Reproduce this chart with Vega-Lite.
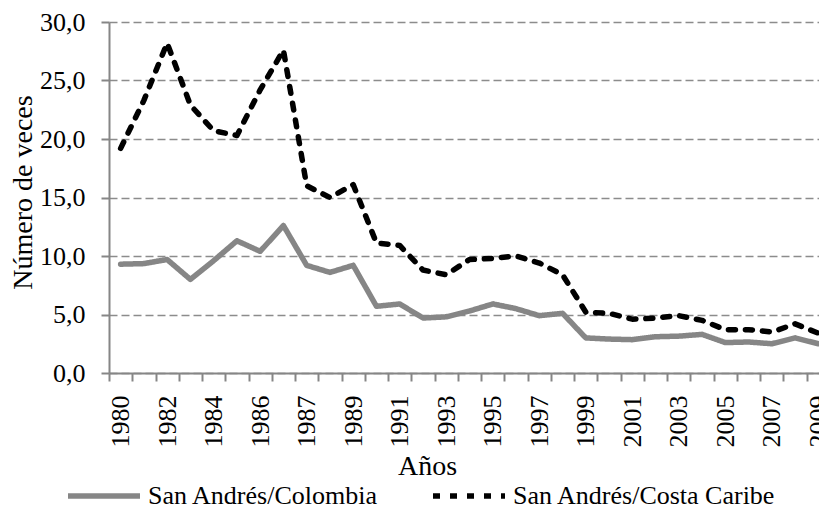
{
  "$schema": "https://vega.github.io/schema/vega-lite/v6.json",
  "width": 710,
  "height": 351,
  "autosize": {"type": "none"},
  "padding": {"left": 109, "top": 22, "right": 0, "bottom": 138},
  "background": "white",
  "config": {
    "font": "Liberation Serif",
    "view": {"stroke": null},
    "axis": {"labelFont": "Liberation Serif", "titleFont": "Liberation Serif", "labelColor": "#000000", "titleColor": "#000000", "titleFontWeight": "normal"},
    "legend": {"labelFont": "Liberation Serif"}
  },
  "data": {
    "values": [
      {"anio": "1980", "serie": "San Andrés/Colombia", "valor": 9.3},
      {"anio": "1981", "serie": "San Andrés/Colombia", "valor": 9.35},
      {"anio": "1982", "serie": "San Andrés/Colombia", "valor": 9.7},
      {"anio": "1983", "serie": "San Andrés/Colombia", "valor": 8.0},
      {"anio": "1984", "serie": "San Andrés/Colombia", "valor": 9.6},
      {"anio": "1985", "serie": "San Andrés/Colombia", "valor": 11.3},
      {"anio": "1986", "serie": "San Andrés/Colombia", "valor": 10.4},
      {"anio": "1986 (2)", "serie": "San Andrés/Colombia", "valor": 12.6},
      {"anio": "1987", "serie": "San Andrés/Colombia", "valor": 9.2},
      {"anio": "1988", "serie": "San Andrés/Colombia", "valor": 8.6},
      {"anio": "1989", "serie": "San Andrés/Colombia", "valor": 9.2},
      {"anio": "1990", "serie": "San Andrés/Colombia", "valor": 5.7},
      {"anio": "1991", "serie": "San Andrés/Colombia", "valor": 5.9},
      {"anio": "1992", "serie": "San Andrés/Colombia", "valor": 4.7},
      {"anio": "1993", "serie": "San Andrés/Colombia", "valor": 4.8},
      {"anio": "1994", "serie": "San Andrés/Colombia", "valor": 5.3},
      {"anio": "1995", "serie": "San Andrés/Colombia", "valor": 5.9},
      {"anio": "1996", "serie": "San Andrés/Colombia", "valor": 5.5},
      {"anio": "1997", "serie": "San Andrés/Colombia", "valor": 4.9},
      {"anio": "1998", "serie": "San Andrés/Colombia", "valor": 5.1},
      {"anio": "1999", "serie": "San Andrés/Colombia", "valor": 3.0},
      {"anio": "2000", "serie": "San Andrés/Colombia", "valor": 2.9},
      {"anio": "2001", "serie": "San Andrés/Colombia", "valor": 2.85},
      {"anio": "2002", "serie": "San Andrés/Colombia", "valor": 3.1},
      {"anio": "2003", "serie": "San Andrés/Colombia", "valor": 3.15},
      {"anio": "2004", "serie": "San Andrés/Colombia", "valor": 3.3},
      {"anio": "2005", "serie": "San Andrés/Colombia", "valor": 2.6},
      {"anio": "2006", "serie": "San Andrés/Colombia", "valor": 2.65},
      {"anio": "2007", "serie": "San Andrés/Colombia", "valor": 2.5},
      {"anio": "2008", "serie": "San Andrés/Colombia", "valor": 3.0},
      {"anio": "2009", "serie": "San Andrés/Colombia", "valor": 2.5},
      {"anio": "1980", "serie": "San Andrés/Costa Caribe", "valor": 19.2},
      {"anio": "1981", "serie": "San Andrés/Costa Caribe", "valor": 23.3},
      {"anio": "1982", "serie": "San Andrés/Costa Caribe", "valor": 28.2},
      {"anio": "1983", "serie": "San Andrés/Costa Caribe", "valor": 22.9},
      {"anio": "1984", "serie": "San Andrés/Costa Caribe", "valor": 20.7},
      {"anio": "1985", "serie": "San Andrés/Costa Caribe", "valor": 20.3},
      {"anio": "1986", "serie": "San Andrés/Costa Caribe", "valor": 24.2},
      {"anio": "1986 (2)", "serie": "San Andrés/Costa Caribe", "valor": 27.6},
      {"anio": "1987", "serie": "San Andrés/Costa Caribe", "valor": 16.0},
      {"anio": "1988", "serie": "San Andrés/Costa Caribe", "valor": 15.0},
      {"anio": "1989", "serie": "San Andrés/Costa Caribe", "valor": 16.1},
      {"anio": "1990", "serie": "San Andrés/Costa Caribe", "valor": 11.1},
      {"anio": "1991", "serie": "San Andrés/Costa Caribe", "valor": 10.9},
      {"anio": "1992", "serie": "San Andrés/Costa Caribe", "valor": 8.8},
      {"anio": "1993", "serie": "San Andrés/Costa Caribe", "valor": 8.4},
      {"anio": "1994", "serie": "San Andrés/Costa Caribe", "valor": 9.7},
      {"anio": "1995", "serie": "San Andrés/Costa Caribe", "valor": 9.8},
      {"anio": "1996", "serie": "San Andrés/Costa Caribe", "valor": 10.0},
      {"anio": "1997", "serie": "San Andrés/Costa Caribe", "valor": 9.4},
      {"anio": "1998", "serie": "San Andrés/Costa Caribe", "valor": 8.4},
      {"anio": "1999", "serie": "San Andrés/Costa Caribe", "valor": 5.2},
      {"anio": "2000", "serie": "San Andrés/Costa Caribe", "valor": 5.1},
      {"anio": "2001", "serie": "San Andrés/Costa Caribe", "valor": 4.6},
      {"anio": "2002", "serie": "San Andrés/Costa Caribe", "valor": 4.7},
      {"anio": "2003", "serie": "San Andrés/Costa Caribe", "valor": 4.9},
      {"anio": "2004", "serie": "San Andrés/Costa Caribe", "valor": 4.5},
      {"anio": "2005", "serie": "San Andrés/Costa Caribe", "valor": 3.7},
      {"anio": "2006", "serie": "San Andrés/Costa Caribe", "valor": 3.7},
      {"anio": "2007", "serie": "San Andrés/Costa Caribe", "valor": 3.5},
      {"anio": "2008", "serie": "San Andrés/Costa Caribe", "valor": 4.2},
      {"anio": "2009", "serie": "San Andrés/Costa Caribe", "valor": 3.4}
    ]
  },
  "mark": {"type": "line", "strokeWidth": 5.5, "strokeCap": "round", "strokeJoin": "round"},
  "encoding": {
    "x": {
      "field": "anio",
      "type": "ordinal",
      "sort": null,
      "scale": {"type": "band", "paddingInner": 0, "paddingOuter": 0, "range": [0, 721]},
      "axis": {
        "title": "Años",
        "titleFontSize": 28,
        "titleX": 318,
        "titleY": 101,
        "titleAlign": "center",
        "titleBaseline": "alphabetic",
        "labelFontSize": 26,
        "labelAngle": -90,
        "labelAlign": "right",
        "labelBaseline": "middle",
        "labelPadding": 14,
        "labelOverlap": false,
        "labelExpr": "indexof(['1980','1982','1984','1986','1987','1989','1991','1993','1995','1997','1999','2001','2003','2005','2007','2009'], datum.value) >= 0 ? datum.value : ''",
        "tickBand": "extent",
        "tickSize": 8,
        "tickWidth": 2,
        "tickColor": "#868686",
        "domainColor": "#868686",
        "domainWidth": 2,
        "grid": false
      }
    },
    "y": {
      "field": "valor",
      "type": "quantitative",
      "scale": {"domain": [0, 30], "nice": false, "zero": true},
      "axis": {
        "title": "Número de veces",
        "titleFontSize": 28,
        "titleX": -78,
        "titleY": 170,
        "titleAngle": -90,
        "titleAlign": "center",
        "titleBaseline": "alphabetic",
        "values": [0, 5, 10, 15, 20, 25, 30],
        "labelExpr": "replace(format(datum.value, '.1f'), '.', ',')",
        "labelFontSize": 26,
        "labelPadding": 16,
        "tickSize": 8,
        "tickWidth": 2,
        "tickColor": "#868686",
        "domainColor": "#868686",
        "domainWidth": 2,
        "grid": true,
        "gridColor": "#8c8c8c",
        "gridDash": [8, 4],
        "gridWidth": 1.5
      }
    },
    "color": {
      "field": "serie",
      "type": "nominal",
      "scale": {"domain": ["San Andrés/Colombia", "San Andrés/Costa Caribe"], "range": ["#868686", "#000000"]},
      "legend": {
        "title": null,
        "orient": "none",
        "legendX": -44,
        "legendY": 435,
        "direction": "horizontal",
        "columns": 2,
        "columnPadding": 43,
        "labelFontSize": 26,
        "labelColor": "#000000",
        "labelOffset": 5,
        "symbolType": "stroke",
        "symbolSize": 5184,
        "symbolStrokeWidth": 5.5,
        "labelLimit": 400
      }
    },
    "strokeDash": {
      "field": "serie",
      "type": "nominal",
      "scale": {"domain": ["San Andrés/Colombia", "San Andrés/Costa Caribe"], "range": [[1, 0], [7, 10]]},
      "legend": {
        "title": null,
        "orient": "none",
        "legendX": -44,
        "legendY": 435,
        "direction": "horizontal",
        "columns": 2,
        "columnPadding": 43,
        "labelFontSize": 26,
        "labelColor": "#000000",
        "labelOffset": 5,
        "symbolType": "stroke",
        "symbolSize": 5184,
        "symbolStrokeWidth": 5.5,
        "labelLimit": 400
      }
    }
  }
}
